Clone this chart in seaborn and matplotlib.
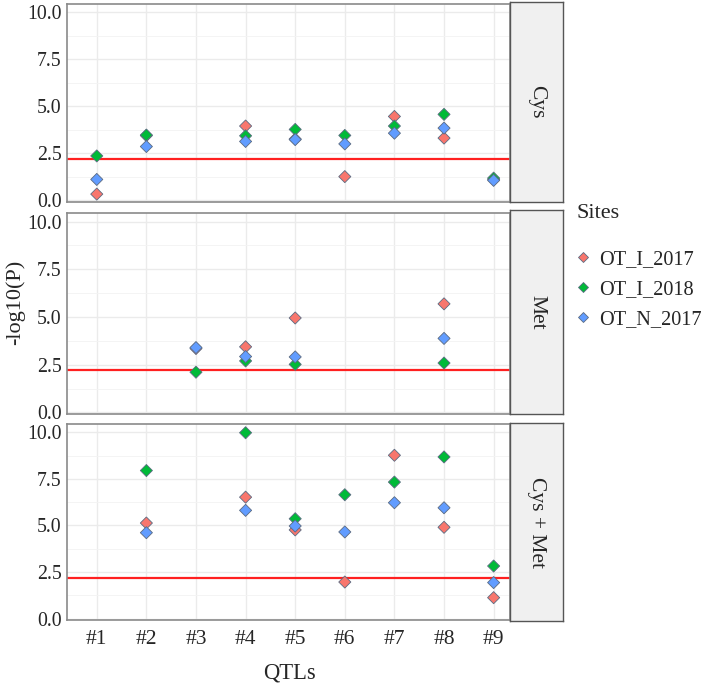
# Importing required libraries ====

import matplotlib.pyplot as plt
import numpy as np
import pandas as pd
import seaborn as sns


# Data ====

qtls = ["#1", "#2", "#3", "#4", "#5", "#6", "#7", "#8", "#9"]
traits = ["Cys", "Met", "Cys + Met"]
sites = ["OT_I_2017", "OT_I_2018", "OT_N_2017"]
site_colors = ["#F8766D", "#00BA38", "#619CFF"]
threshold = 2.2

nan = np.nan
cys_ot_i_2017 = [0.34, 3.45, nan, 3.96, 3.27, 1.27, 4.47, 3.32, 1.12]
cys_ot_i_2018 = [2.37, 3.48, nan, 3.44, 3.78, 3.46, 3.96, 4.58, 1.19]
cys_ot_n_2017 = [1.12, 2.87, nan, 3.14, 3.24, 3.01, 3.58, 3.85, 1.07]

met_ot_i_2017 = [nan, nan, 3.35, 3.44, 4.95, nan, nan, 5.69, nan]
met_ot_i_2018 = [nan, nan, 2.11, 2.70, 2.52, nan, nan, 2.59, nan]
met_ot_n_2017 = [nan, nan, 3.40, 2.93, 2.91, nan, nan, 3.88, nan]

cysmet_ot_i_2017 = [nan, 5.13, nan, 6.52, 4.76, 1.96, 8.77, 4.90, 1.12]
cysmet_ot_i_2018 = [nan, 7.95, nan, 9.98, 5.36, 6.65, 7.33, 8.68, 2.82]
cysmet_ot_n_2017 = [nan, 4.61, nan, 5.81, 4.97, 4.65, 6.22, 5.95, 1.93]

values = {
    "Cys": [cys_ot_i_2017, cys_ot_i_2018, cys_ot_n_2017],
    "Met": [met_ot_i_2017, met_ot_i_2018, met_ot_n_2017],
    "Cys + Met": [cysmet_ot_i_2017, cysmet_ot_i_2018, cysmet_ot_n_2017],
}

rows = []
for trait in traits:
    for site, vals in zip(sites, values[trait]):
        for i, v in enumerate(vals):
            rows.append({"trait": trait, "site": site, "pos": i + 1, "value": v})
df = pd.DataFrame(rows).dropna()


# Figure ====

sns.set_style("white")
plt.rcParams["font.family"] = ["Liberation Serif", "DejaVu Serif"]

W, H = 710, 685
fig = plt.figure(figsize=(W / 100, H / 100), dpi=100)


def px_rect(x0, y0, x1, y1):
    return [x0 / W, 1 - y1 / H, (x1 - x0) / W, (y1 - y0) / H]


panel_px = [(67, 4, 510, 202), (67, 213, 510, 414), (67, 424, 510, 620)]
strip_px = [(510, 2, 563, 202), (510, 210, 563, 414), (510, 423, 563, 621)]

for k, trait in enumerate(traits):
    ax = fig.add_axes(px_rect(*panel_px[k]))
    sub = df[df["trait"] == trait]

    ax.set_xlim(0.4, 9.33)
    ax.set_ylim(-0.08, 10.45)
    ax.set_yticks([0, 2.5, 5, 7.5, 10])
    ax.set_yticks([1.25, 3.75, 6.25, 8.75], minor=True)
    ax.set_xticks(range(1, 10))
    ax.grid(True, which="major", color="#ebebeb", lw=1.0, zorder=0)
    ax.grid(True, which="minor", axis="y", color="#f3f3f3", lw=0.6, zorder=0)
    ax.set_axisbelow(True)

    ax.axhline(threshold, color="#FF2020", lw=1.6, zorder=2)

    sns.scatterplot(data=sub, x="pos", y="value", hue="site", hue_order=sites,
                    palette=site_colors, marker="D", s=38, edgecolor="#5b6b82",
                    linewidth=0.6, ax=ax, legend=(k == 1), zorder=3)

    ax.set_xlabel("")
    ax.set_ylabel("")
    ax.set_yticklabels(["0.0", "2.5", "5.0", "7.5", "10.0"], fontsize=14.3)
    if k == 2:
        ax.set_xticklabels(qtls, fontsize=15.5)
    else:
        ax.set_xticklabels([])
    ax.tick_params(axis="y", which="major", length=3, width=0.8, color="#333333", pad=1)
    ax.tick_params(axis="y", which="minor", length=0)
    ax.tick_params(axis="x", length=2, width=1.2, color="#333333", pad=5)
    for sp in ax.spines.values():
        sp.set_color("#8a8a8a")
        sp.set_linewidth(1.2)

    if k == 1:
        sns.move_legend(ax, "upper left", bbox_to_anchor=(573 / W, 1 - 250 / H),
                        bbox_transform=fig.transFigure, title=None, frameon=False,
                        fontsize=14.6, borderpad=0, borderaxespad=0,
                        handletextpad=0.3, labelspacing=0.52, handlelength=1.0,
                        markerscale=0.8)

    # facet strip
    sax = fig.add_axes(px_rect(*strip_px[k]))
    sax.set_facecolor("#f0f0f0")
    sax.set_xticks([])
    sax.set_yticks([])
    for sp in sax.spines.values():
        sp.set_color("#555555")
        sp.set_linewidth(1.0)
    sax.text(0.5, 0.5, trait, rotation=-90, ha="center", va="center",
             fontsize=15.5, transform=sax.transAxes)

fig.text(577 / W, 1 - 213 / H, "Sites", ha="left", va="center", fontsize=16)
fig.text(15 / W, 1 - 302 / H, "-log10(P)", rotation=90, ha="center", va="center", fontsize=16)
fig.text(289 / W, 1 - 673 / H, "QTLs", ha="center", va="center", fontsize=16.3)

fig.savefig("out.png", dpi=100)
